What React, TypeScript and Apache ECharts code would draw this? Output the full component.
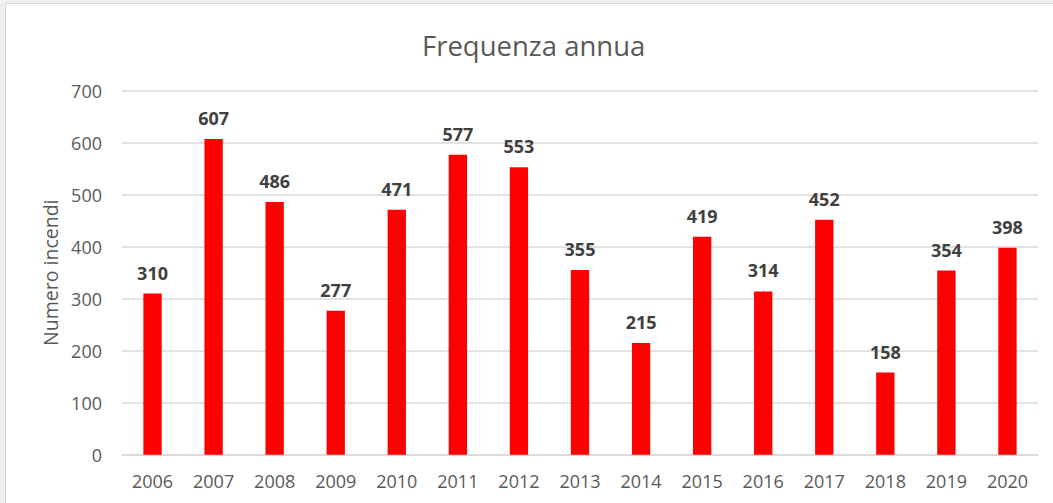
import React, { useEffect, useRef } from "react";
import * as echarts from "echarts";

const years = ["2006", "2007", "2008", "2009", "2010", "2011", "2012", "2013", "2014", "2015", "2016", "2017", "2018", "2019", "2020"];
const fires = [310, 607, 486, 277, 471, 577, 553, 355, 215, 419, 314, 452, 158, 354, 398];
const yTicks = { min: 0, max: 700, interval: 100 };
const titleText = "Frequenza annua";
const yName = "Numero incendi";

const FONT = "'Open Sans', 'Noto Sans', sans-serif";

export default function App() {
  const ref = useRef<HTMLDivElement>(null);
  useEffect(() => {
    if (!ref.current) return;
    const chart = echarts.init(ref.current, undefined, { renderer: "svg" });
    chart.setOption({
      animation: false,
      backgroundColor: "#efefef",
      graphic: [
        {
          type: "rect",
          z: -10,
          silent: true,
          shape: { x: 5.5, y: 3.5, width: 1200, height: 600 },
          style: { fill: "#ffffff", stroke: "#d6d6d6", lineWidth: 1 },
        },
      ],
      title: {
        text: titleText,
        left: 417,
        top: 26,
        textStyle: { fontFamily: FONT, fontSize: 27.5, fontWeight: "normal", color: "#595959" },
      },
      grid: { left: 122, right: 15, top: 90.7, bottom: 48.3, containLabel: false },
      xAxis: {
        type: "category",
        data: years,
        axisLine: { show: true, lineStyle: { color: "#d9d9d9", width: 1.5 } },
        axisTick: { show: false },
        axisLabel: { color: "#595959", fontFamily: FONT, fontSize: 18, margin: 17 },
      },
      yAxis: {
        type: "value",
        min: yTicks.min,
        max: yTicks.max,
        interval: yTicks.interval,
        name: yName,
        nameLocation: "middle",
        nameRotate: 90,
        nameGap: 62,
        nameTextStyle: { color: "#595959", fontFamily: FONT, fontSize: 19.5 },
        axisLine: { show: false },
        axisTick: { show: false },
        splitLine: { lineStyle: { color: "#d9d9d9", width: 1.5 } },
        axisLabel: { color: "#595959", fontFamily: FONT, fontSize: 18, margin: 20 },
      },
      series: [
        {
          type: "bar",
          data: fires,
          barWidth: "30%",
          itemStyle: { color: "#ff0000" },
          label: {
            show: true,
            position: "top",
            distance: 12,
            color: "#404040",
            fontFamily: FONT,
            fontSize: 18,
            fontWeight: "bold",
          },
        },
      ],
    });
    return () => chart.dispose();
  }, []);
  return (
    <div
      ref={ref}
      style={{ position: "fixed", left: 0, top: 0, width: 1053, height: 503 }}
    />
  );
}
